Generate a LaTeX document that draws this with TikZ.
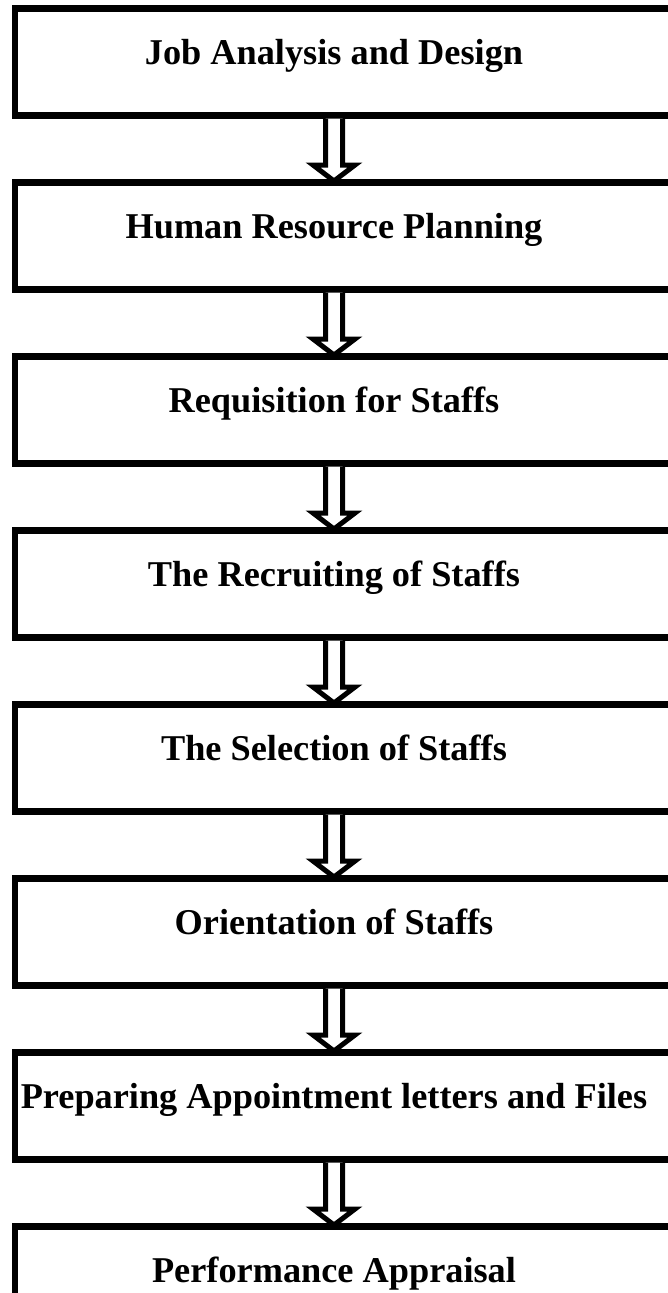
\documentclass[tikz,border=0pt]{standalone}
\usepackage{fontspec}
\setmainfont{Liberation Serif}
\usetikzlibrary{calc}
\begin{document}
\begin{tikzpicture}[x=1pt,y=1pt,
  box/.style={draw, line width=6.5pt, minimum width=720pt, minimum height=107pt,
    anchor=north west, inner sep=0pt, outer sep=0pt},
  lbl/.style={font=\fontsize{36.3}{42}\selectfont\bfseries, inner sep=0pt, anchor=base},
  barrow/.style={draw, line width=5pt, fill=white, line join=miter}]
\useasboundingbox (0,0) rectangle (668,-1293);
\coordinate (ax) at (334,0);
\foreach \i/\t in {1/Job Analysis and Design,
                   2/Human Resource Planning,
                   3/Requisition for Staffs,
                   4/The Recruiting of Staffs,
                   5/The Selection of Staffs,
                   6/Orientation of Staffs,
                   7/Preparing Appointment letters and Files,
                   8/Performance Appraisal}{
  \node[box] (b\i) at (15,{-8.5-174*(\i-1)}) {};
  \node[lbl] (t\i) at (334,{-8.5-174*(\i-1)-56}) {\t};
}
\foreach \i/\j in {1/2,2/3,3/4,4/5,5/6,6/7,7/8}{
  \draw[barrow] ($(ax|-b\i.south)+(-8.5,-3)$) -- ($(ax|-b\i.south)+(-8.5,-49.5)$)
     -- ($(ax|-b\i.south)+(-21,-49.5)$) -- ($(ax|-b\j.north)+(0,1.5)$)
     -- ($(ax|-b\i.south)+(21,-49.5)$) -- ($(ax|-b\i.south)+(8.5,-49.5)$)
     -- ($(ax|-b\i.south)+(8.5,-3)$);
}
\end{tikzpicture}
\end{document}
